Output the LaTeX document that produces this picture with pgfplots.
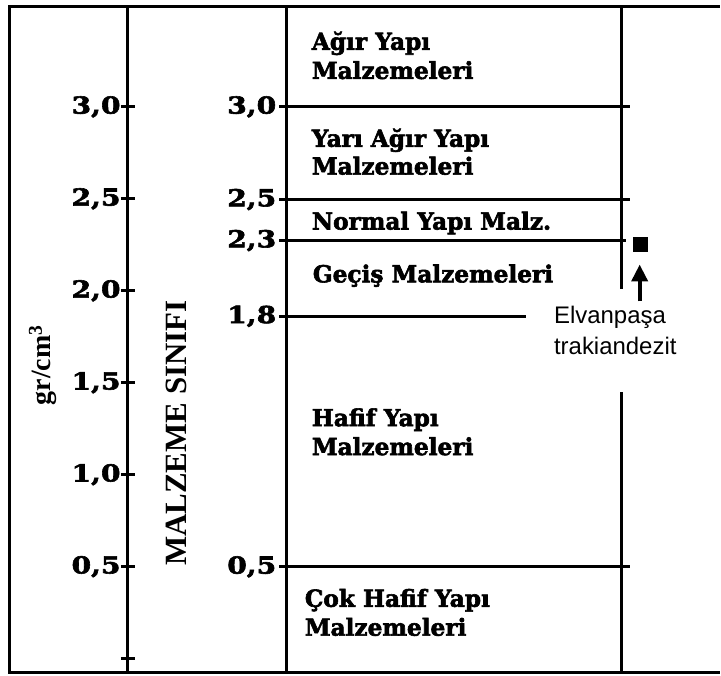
\documentclass[border=0pt]{standalone}
\usepackage{fontspec}
\setmainfont{Liberation Serif}
\newfontfamily\slab{DejaVu Serif Bold}[FakeBold=2.5, FakeStretch=0.99]
\newfontfamily\slabnum{DejaVu Serif Bold}[FakeBold=2.5, FakeStretch=1.2]
\newfontfamily\arial{Liberation Sans}
\usepackage{pgfplots}
\pgfplotsset{compat=1.18}
\usetikzlibrary{arrows.meta}

\newcommand{\catfont}{\slab\fontsize{23.5}{23.5}\selectfont}
\newcommand{\tickfont}{\slabnum\fontsize{23.5}{23.5}\selectfont}

\begin{document}
\begin{tikzpicture}
\begin{axis}[
    scale only axis,
    width=721pt, height=677pt,
    xmin=-128, xmax=593,
    ymin=-0.0922, ymax=3.5811,
    axis x line=none,
    axis y line=middle,
    axis line style={draw=none},
    ytick={0,0.5,1,1.5,2,2.5,3},
    yticklabels={,0{,}5,1{,}0,1{,}5,2{,}0,2{,}5,3{,}0},
    tick align=center,
    major tick length=14pt,
    every tick/.style={black, line width=3pt},
    yticklabel style={font=\tickfont, anchor=east, inner sep=0pt},
    clip=false,
    ln/.style={black, line width=3pt, no marks},
]
% whole picture area
\path (axis cs:-128,-0.0922) rectangle (axis cs:593,3.5811);
% frame
\addplot[ln, line join=miter] coordinates {(593,3.543) (-118,3.543) (-118,-0.076) (593,-0.076)};
% density scale and class columns
\addplot[ln] coordinates {(0,3.543) (0,-0.076)};
\addplot[ln] coordinates {(159,3.543) (159,-0.076)};
\addplot[ln] coordinates {(495,3.543) (495,2.008)};
\addplot[ln] coordinates {(495,1.449) (495,-0.076)};
% class limits (gr/cm3)
\addplot[ln] coordinates {(152,3.0) (503,3.0)};
\addplot[ln] coordinates {(152,2.496) (503,2.496)};
\addplot[ln] coordinates {(152,2.273) (499,2.273)};
\addplot[ln] coordinates {(152,1.861) (399,1.861)};
\addplot[ln] coordinates {(152,0.499) (503,0.499)};

\node[font=\tickfont, anchor=east, inner sep=0pt] at (axis cs:149,3.0) {3,0};
\node[font=\tickfont, anchor=east, inner sep=0pt] at (axis cs:149,2.496) {2,5};
\node[font=\tickfont, anchor=east, inner sep=0pt] at (axis cs:149,2.273) {2,3};
\node[font=\tickfont, anchor=east, inner sep=0pt] at (axis cs:149,1.861) {1,8};
\node[font=\tickfont, anchor=east, inner sep=0pt] at (axis cs:149,0.499) {0,5};

% class names
\node[font=\catfont, anchor=base west] at (axis cs:181,3.310) {Ağır Yapı};
\node[font=\catfont, anchor=base west] at (axis cs:181,3.152) {Malzemeleri};
\node[font=\catfont, anchor=base west] at (axis cs:181,2.783) {Yarı Ağır Yapı};
\node[font=\catfont, anchor=base west] at (axis cs:181,2.632) {Malzemeleri};
\node[font=\catfont, anchor=base west] at (axis cs:181,2.333) {Normal Yapı Malz.};
\node[font=\catfont, anchor=base west] at (axis cs:182,2.046) {Geçiş Malzemeleri};
\node[font=\catfont, anchor=base west] at (axis cs:181,1.264) {Hafif Yapı};
\node[font=\catfont, anchor=base west] at (axis cs:181,1.107) {Malzemeleri};
\node[font=\catfont, anchor=base west] at (axis cs:174,0.282) {Çok Hafif Yapı};
\node[font=\catfont, anchor=base west] at (axis cs:174,0.125) {Malzemeleri};

% axis titles
\node[font=\bfseries\fontsize{28}{28}\selectfont, rotate=90] at (axis cs:-85,1.595) {gr/cm\textsuperscript{3}};
\node[font=\bfseries\fontsize{31}{31}\selectfont, rotate=90] at (axis cs:49,1.226) {MALZEME SINIFI};

% Elvanpasa trakiandezit
\addplot[only marks, mark=square*, mark size=7pt, black] coordinates {(514,2.252)};
\addplot[no marks, draw=black, line width=4pt, -{Triangle[length=17pt,width=16pt]}] coordinates {(513,1.942) (513,2.143)};
\node[font=\arial\fontsize{24}{24}\selectfont, anchor=base west, inner sep=0pt] at (axis cs:427,1.823) {Elvanpaşa};
\node[font=\arial\fontsize{24}{24}\selectfont, anchor=base west, inner sep=0pt] at (axis cs:427,1.655) {trakiandezit};
\end{axis}
\end{tikzpicture}
\end{document}
